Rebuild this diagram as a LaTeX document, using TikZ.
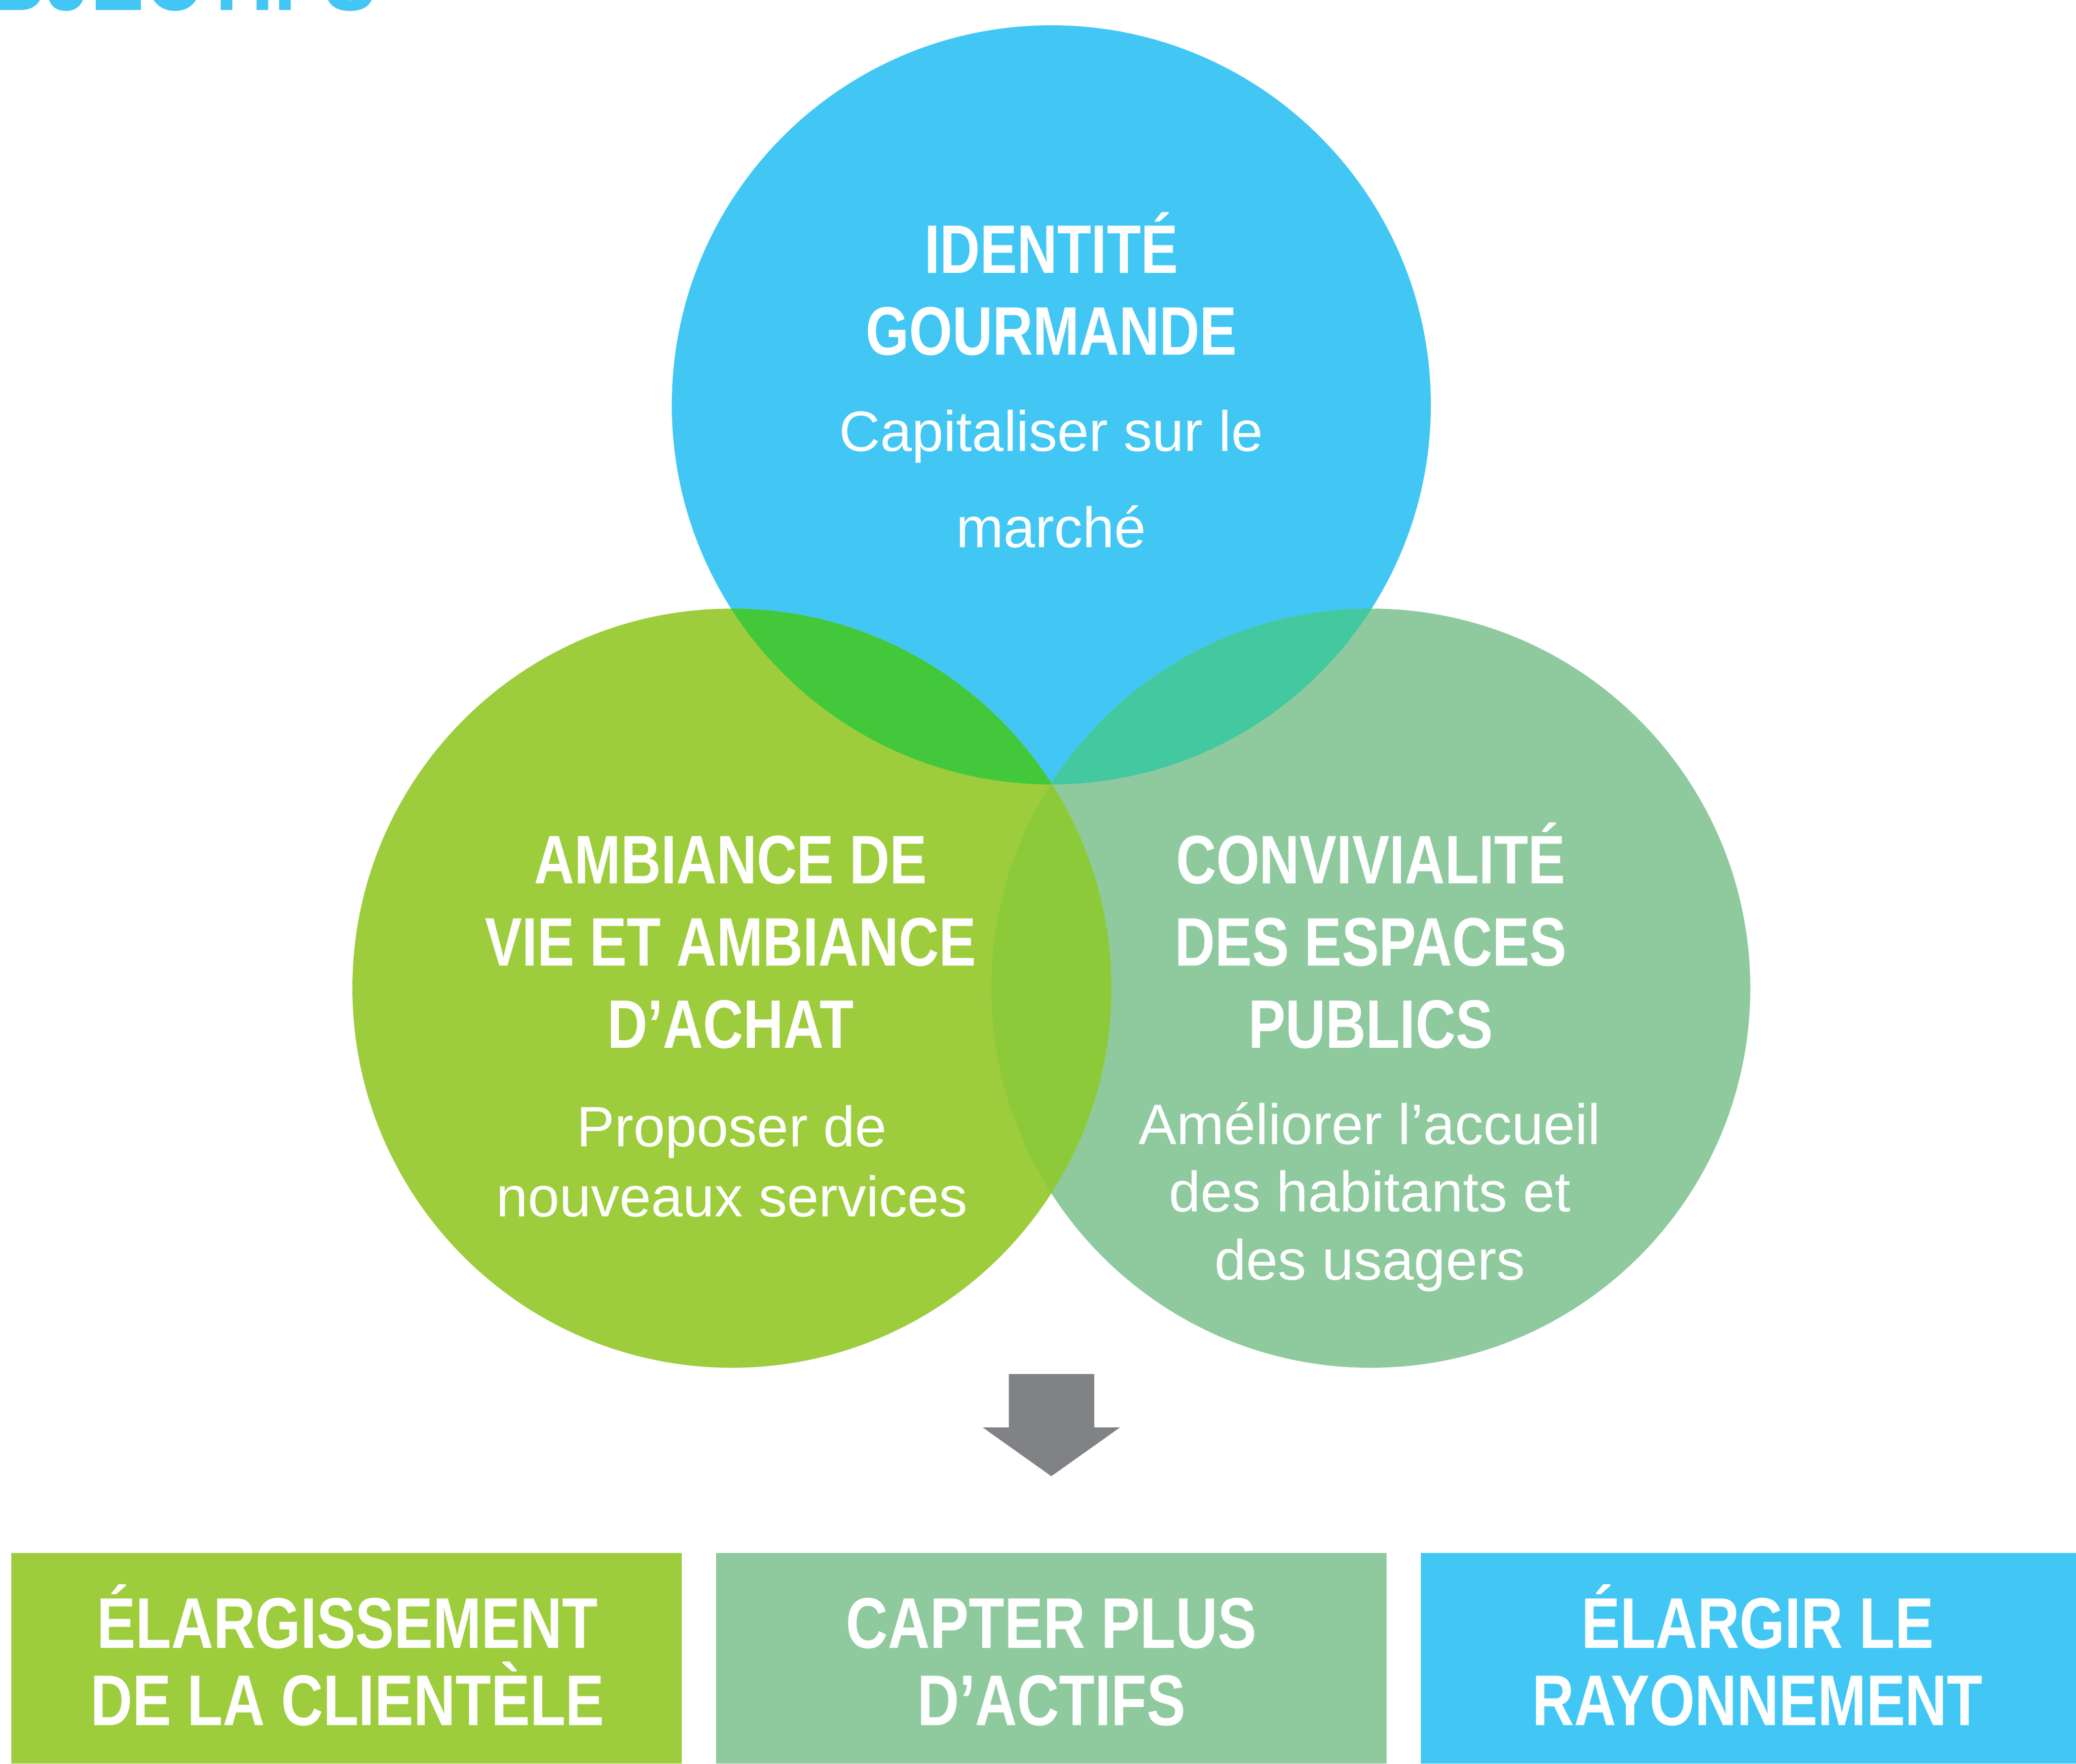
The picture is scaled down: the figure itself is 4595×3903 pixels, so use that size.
\documentclass[tikz,border=0pt]{standalone}
\usepackage{fontspec}
\setmainfont{Liberation Sans}
\newfontfamily\condfont[FakeStretch=0.81]{Liberation Sans}
\definecolor{cblue}{HTML}{42C7F4}
\definecolor{cgreen}{HTML}{9DCD3D}
\definecolor{clgreen}{HTML}{8FCA9F}
\definecolor{cbg}{HTML}{43C83B}
\definecolor{cbl}{HTML}{43C8A0}
\definecolor{cgl}{HTML}{8DCA3A}
\definecolor{cgray}{HTML}{808285}
\begin{document}
\begin{tikzpicture}[x=0.1pt,y=0.1pt,
  ttl/.style={font=\condfont\bfseries\fontsize{15.2}{18}\selectfont, text=white, anchor=base, inner sep=0pt},
  sub/.style={font=\fontsize{12.6}{15}\selectfont, text=white, anchor=base, inner sep=0pt},
  boxt/.style={font=\condfont\bfseries\fontsize{15.9}{18}\selectfont, text=white, anchor=base, inner sep=0pt},
  boxfill/.style={fill=#1, draw=none}]
\useasboundingbox (0,0) rectangle (4595,3903);
\clip (0,0) rectangle (4595,3903);
\fill[white] (0,0) rectangle (4595,3903);
% heading (cut off at top)
\node[font=\condfont\bfseries\fontsize{22}{24}\selectfont, text=cblue, anchor=base east, inner sep=0pt] (head) at (836,3880) {OBJECTIFS};
% circle centres
\coordinate (ctop) at (2327,3007);
\coordinate (cleft) at (1620,1716);
\coordinate (cright) at (3034,1716);
\fill[cblue] (ctop) circle[radius=840];
\fill[cgreen] (cleft) circle[radius=840];
\fill[clgreen] (cright) circle[radius=840];
\begin{scope}
  \clip (ctop) circle[radius=840];
  \fill[cbg] (cleft) circle[radius=840];
  \fill[cbl] (cright) circle[radius=840];
\end{scope}
\begin{scope}
  \clip (cleft) circle[radius=840];
  \fill[cgl] (cright) circle[radius=840];
\end{scope}
% top circle text
\node[ttl] (t1) at (2327,3299) {IDENTITÉ};
\node[ttl] (t2) at (2327,3118) {GOURMANDE};
\node[sub] (t3) at (2327,2905) {Capitaliser sur le};
\node[sub] (t4) at (2327,2692) {marché};
% left circle text
\node[ttl] (l1) at (1617,1948) {AMBIANCE DE};
\node[ttl] (l2) at (1617,1766) {VIE ET AMBIANCE};
\node[ttl] (l3) at (1617,1584) {D’ACHAT};
\node[sub] (l4) at (1620,1366) {Proposer de};
\node[sub] (l5) at (1620,1211) {nouveaux services};
% right circle text
\node[ttl] (r1) at (3034,1948) {CONVIVIALITÉ};
\node[ttl] (r2) at (3034,1766) {DES ESPACES};
\node[ttl] (r3) at (3034,1584) {PUBLICS};
\node[sub] (r4) at (3032,1371) {Améliorer l’accueil};
\node[sub] (r5) at (3032,1222) {des habitants et};
\node[sub] (r6) at (3032,1071) {des usagers};
% arrow
\fill[cgray] (2233,862) -- (2422,862) -- (2422,744) -- (2479,744) -- (2327,636) -- (2175,744) -- (2233,744) -- cycle;
% boxes
\fill[boxfill=cgreen] (25,0) rectangle (1509,466);
\fill[boxfill=clgreen] (1585,0) rectangle (3069,466);
\fill[boxfill=cblue] (3145,0) rectangle (4640,466);
\node[boxt] (b1a) at (769,256) {ÉLARGISSEMENT};
\node[boxt] (b1b) at (769,85) {DE LA CLIENTÈLE};
\node[boxt] (b2a) at (2327,256) {CAPTER PLUS};
\node[boxt] (b2b) at (2327,85) {D’ACTIFS};
\node[boxt] (b3a) at (3890,256) {ÉLARGIR LE};
\node[boxt] (b3b) at (3890,85) {RAYONNEMENT};
\end{tikzpicture}
\end{document}
